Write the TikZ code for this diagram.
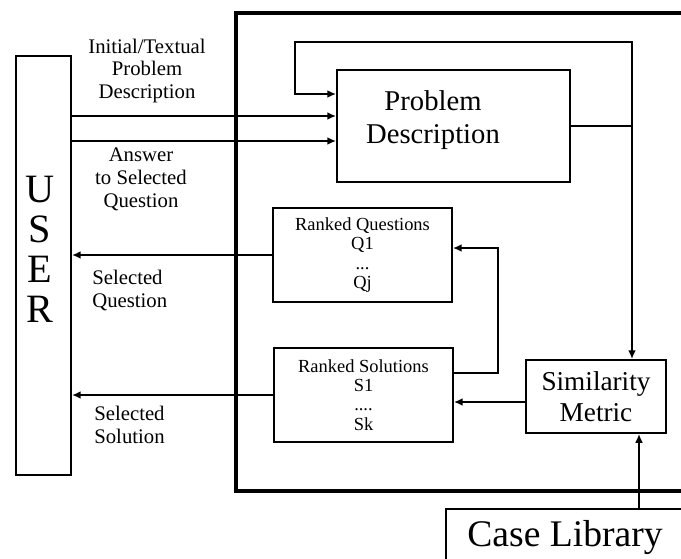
\documentclass[tikz,border=0pt]{standalone}
\usepackage{fontspec}
\setmainfont{Liberation Serif}
\usetikzlibrary{arrows.meta}

\begin{document}
\begin{tikzpicture}[x=0.02cm, y=-0.02cm,
        box/.style={draw, line width=1.1pt, inner sep=0pt, align=center},
        arr/.style={line width=1.1pt, -{Latex[length=5pt, width=4.5pt]}},
        lbl/.style={font=\fontsize{11.8}{13}\selectfont, inner sep=0pt}]
    \clip (0,0) rectangle (681,559);

    % system frame, open to the right
    \draw[line width=2pt] (700,13) -| (236,491) -- (700,491);

    \node[box, minimum width=1.1cm, minimum height=8.38cm] (user) at (43.5,265.5) {};
    \node[font=\fontsize{22.9}{22.7}\selectfont, align=center, inner sep=0pt] (usertext) at (40,249) {U\\S\\E\\R};

    \node[box, minimum width=4.66cm, minimum height=2.24cm] (pd) at (453.5,126) {};
    \node[font=\fontsize{16.3}{18.7}\selectfont, align=center, inner sep=0pt] (pdtext) at (433,120.5) {Problem\\Description};

    \node[box, font=\fontsize{10.5}{11}\selectfont, minimum width=3.58cm, minimum height=1.88cm] (rq) at (362.5,255) {Ranked Questions\\Q1\\...\\Qj};
    \node[box, font=\fontsize{10.5}{11}\selectfont, minimum width=3.58cm, minimum height=1.88cm] (rs) at (363.5,395) {Ranked Solutions\\S1\\....\\Sk};

    \node[box, font=\fontsize{15.5}{18}\selectfont, minimum width=2.8cm, minimum height=1.46cm] (sm) at (596,396.5) {Similarity\\Metric};
    \node[box, font=\fontsize{21.4}{24}\selectfont, minimum width=4.76cm, minimum height=1.16cm] (caselib) at (565,538) {Case Library};

    % user input
    \draw[arr] (user.east |- 0,116) -- (pd.west |- 0,116);
    \draw[arr] (user.east |- 0,141) -- (pd.west |- 0,141);
    \node[lbl, align=center] (initlbl) at (147,71) {Initial/Textual\\Problem\\Description};
    \node[lbl, align=center] (anslbl) at (141,179) {Answer\\to Selected\\Question};

    % feedback and retrieval
    \draw[arr] (pd.east) -| (sm.north -| 632,0);
    \draw[arr] (pd.east -| 632,0) |- (295,42) |- (pd.west |- 0,94);
    \draw[arr] (caselib.north -| 639,0) -- (sm.south -| 639,0);
    \draw[arr] (sm.west |- 0,402) -- (rs.east |- 0,402);
    \draw[arr] (rs.east |- 0,373) -| (498,248) -- (rq.east |- 0,248);

    % output to user
    \draw[arr] (rq.west) -- (user.east |- rq.west);
    \draw[arr] (rs.west) -- (user.east |- rs.west);
    \node[lbl, align=left, anchor=west] (selqlbl) at (92,290.5) {Selected\\Question};
    \node[lbl, align=left, anchor=west] (selslbl) at (94,424.5) {Selected\\Solution};
\end{tikzpicture}
\end{document}
